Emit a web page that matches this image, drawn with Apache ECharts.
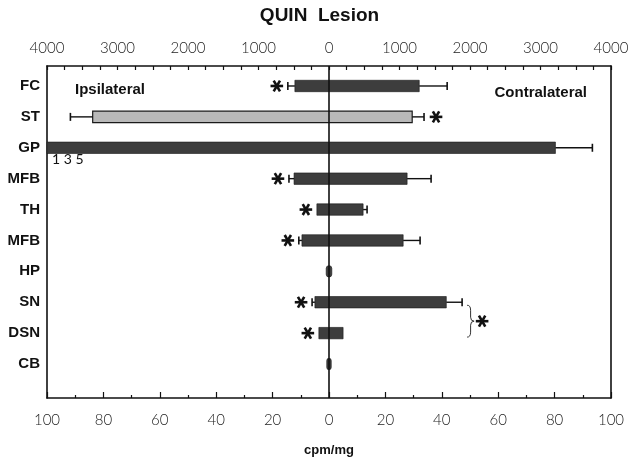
<!DOCTYPE html>
<html><head><meta charset="utf-8">
<script src="https://cdn.jsdelivr.net/npm/echarts@6/dist/echarts.min.js"></script>
<style>html,body{margin:0;padding:0;background:#fff}#c{width:639px;height:459px}</style>
</head><body><div id="c"></div>
<script>
// ---- data (cpm/mg) ----
const categories = ['FC','ST','GP','MFB','TH','MFB','HP','SN','DSN','CB'];
const ipsiMean   = [12.1, 83.8, 135, 12.4, 4.3, 9.6, 1.0, 5.0, 3.6, 0.8];
const ipsiErr    = [2.5, 7.9, 0, 1.8, 0, 1.1, 0, 1.0, 0, 0];
const contraMean = [32.0, 29.5, 80.3, 27.7, 12.1, 26.3, 1.0, 41.6, 5.0, 0.8];
const contraErr  = [9.9, 4.2, 13.1, 8.5, 1.4, 6.0, 0, 5.6, 0, 0];
const ipsiSig    = [1, 0, 0, 1, 1, 1, 0, 1, 1, 0];
const contraSig  = [0, 1, 0, 0, 0, 0, 0, 0, 0, 0];
const lightBar   = [0, 1, 0, 0, 0, 0, 0, 0, 0, 0];
const bracePairs = [[7, 8]];
const bottomRange = [-100, 100];   // cpm/mg
const topRange = [-4000, 4000];

const DARK = '#3d3d3d', LIGHT = '#b9b9b9', INK = '#111';
const NUMFONT = 'Lato', LBLFONT = 'Liberation Sans';

function asterisk(cx, cy, r) {
  const out = [];
  [0, 60, 120].forEach(a => {
    const t = a * Math.PI / 180, dx = r * Math.cos(t), dy = r * Math.sin(t);
    out.push({type: 'line', shape: {x1: cx - dx, y1: cy - dy, x2: cx + dx, y2: cy + dy},
      style: {stroke: INK, lineWidth: 2.6, lineCap: 'butt'}});
  });
  return out;
}

function renderRow(params, api) {
  const i = params.dataIndex;
  const cs = params.coordSys;
  const yc = api.coord([0, i])[1];
  const band = api.size([0, 1])[1];
  const h = band * 0.37;
  let xl = api.coord([-ipsiMean[i], i])[0];
  const xr = api.coord([contraMean[i], i])[0];
  const clipped = xl < cs.x;
  if (clipped) xl = cs.x;
  const w = xr - xl;
  const children = [];
  const r = w < 10 ? Math.min(w / 2, h / 2) : 0;
  children.push({type: 'rect', shape: {x: xl, y: yc - h / 2, width: w, height: h, r: r},
    style: {fill: lightBar[i] ? LIGHT : DARK, stroke: '#1a1a1a', lineWidth: lightBar[i] ? 1.2 : 0.6}});
  const cap = 4;
  let leftEnd = xl, rightEnd = xr;
  if (ipsiErr[i] > 0) {
    const xe = api.coord([-(ipsiMean[i] + ipsiErr[i]), i])[0];
    children.push({type: 'line', shape: {x1: xl, y1: yc, x2: xe, y2: yc}, style: {stroke: INK, lineWidth: 1.4}});
    children.push({type: 'line', shape: {x1: xe, y1: yc - cap, x2: xe, y2: yc + cap}, style: {stroke: INK, lineWidth: 1.6}});
    leftEnd = xe;
  }
  if (contraErr[i] > 0) {
    const xe = api.coord([contraMean[i] + contraErr[i], i])[0];
    children.push({type: 'line', shape: {x1: xr, y1: yc, x2: xe, y2: yc}, style: {stroke: INK, lineWidth: 1.4}});
    children.push({type: 'line', shape: {x1: xe, y1: yc - cap, x2: xe, y2: yc + cap}, style: {stroke: INK, lineWidth: 1.6}});
    rightEnd = xe;
  }
  if (ipsiSig[i]) children.push(...asterisk(leftEnd - 11, yc, 6.3));
  if (contraSig[i]) children.push(...asterisk(rightEnd + 12, yc, 6.3));
  if (clipped) {
    children.push({type: 'text', style: {text: String(ipsiMean[i]).split('').join(' '), x: cs.x + 5, y: yc + h / 2 + 6,
      verticalAlign: 'middle', align: 'left', fontFamily: NUMFONT, fontSize: 14, fill: INK}});
  }
  return {type: 'group', children};
}

function renderBrace(params, api) {
  const pair = bracePairs[params.dataIndex];
  const a = pair[0], b = pair[1];
  const y1 = api.coord([0, a])[1] + 3, y2 = api.coord([0, b])[1] + 4;
  const ends = pair.map(k => api.coord([contraMean[k] + contraErr[k], k])[0]);
  const x = Math.max(...ends) + 5;
  const m = (y1 + y2) / 2;
  const path = `M${x},${y1} Q${x + 3.5},${y1} ${x + 3.5},${y1 + 5} L${x + 3.5},${m - 4} Q${x + 3.5},${m} ${x + 7},${m} Q${x + 3.5},${m} ${x + 3.5},${m + 4} L${x + 3.5},${y2 - 5} Q${x + 3.5},${y2} ${x},${y2}`;
  return {type: 'group', children: [
    {type: 'path', shape: {pathData: path}, style: {stroke: '#333', fill: null, lineWidth: 1}},
    ...asterisk(x + 15, m, 6.3)
  ]};
}

function renderZero(params, api) {
  const cs = params.coordSys;
  const x = api.coord([0, 0])[0];
  return {type: 'line', shape: {x1: x, y1: cs.y, x2: x, y2: cs.y + cs.height},
    style: {stroke: INK, lineWidth: 1.6}};
}

const yMin = -0.647, yMax = 10.1;
const axisLineStyle = {color: INK, width: 1.6};

const option = {
  backgroundColor: '#fff',
  animation: false,
  title: {text: 'QUIN  Lesion', left: 'center', top: 6, padding: 0,
    textStyle: {fontFamily: LBLFONT, fontWeight: 'bold', fontSize: 19, color: INK}},
  grid: {left: 47, right: 28, top: 66, bottom: 61, containLabel: false, outerBoundsMode: 'none'},
  xAxis: [
    {type: 'value', position: 'bottom', min: bottomRange[0], max: bottomRange[1], interval: 20,
      axisLine: {show: true, onZero: false, lineStyle: axisLineStyle},
      axisTick: {show: true, inside: true, length: 6, lineStyle: {color: INK, width: 1.2}},
      minorTick: {show: true, splitNumber: 2, length: 3, lineStyle: {color: INK, width: 1.2}},
      splitLine: {show: false}, minorSplitLine: {show: false},
      axisLabel: {formatter: v => String(Math.abs(v)), margin: 15, fontFamily: NUMFONT, fontWeight: 300, fontSize: 15, color: '#222'},
      name: 'cpm/mg', nameLocation: 'middle', nameGap: 46,
      nameTextStyle: {fontFamily: LBLFONT, fontWeight: 'bold', fontSize: 13, color: INK}},
    {type: 'value', position: 'top', min: topRange[0], max: topRange[1], interval: 1000,
      axisLine: {show: true, onZero: false, lineStyle: axisLineStyle},
      axisTick: {show: true, inside: true, length: 4, lineStyle: {color: INK, width: 1.2}},
      minorTick: {show: true, splitNumber: 4, length: 4, lineStyle: {color: INK, width: 1.2}},
      splitLine: {show: false}, minorSplitLine: {show: false},
      axisLabel: {formatter: v => String(Math.abs(v)), margin: 10, fontFamily: NUMFONT, fontWeight: 300, fontSize: 15, color: '#222'}}
  ],
  yAxis: [
    {type: 'value', inverse: true, min: yMin, max: yMax, position: 'left',
      axisLine: {show: true, onZero: false, lineStyle: axisLineStyle},
      axisTick: {show: false}, splitLine: {show: false},
      axisLabel: {customValues: categories.map((c, i) => i), formatter: v => categories[v] || '',
        margin: 7, fontFamily: LBLFONT, fontWeight: 'bold', fontSize: 15, color: INK}},
    {type: 'value', inverse: true, min: yMin, max: yMax, position: 'right',
      axisLine: {show: true, onZero: false, lineStyle: axisLineStyle},
      axisTick: {show: false}, splitLine: {show: false}, axisLabel: {show: false}}
  ],
  graphic: [
    {type: 'text', left: 75, top: 82, style: {text: 'Ipsilateral', fontFamily: LBLFONT, fontWeight: 'bold', fontSize: 15, fill: INK}},
    {type: 'text', right: 52, top: 85, style: {text: 'Contralateral', fontFamily: LBLFONT, fontWeight: 'bold', fontSize: 15, fill: INK}}
  ],
  series: [
    {type: 'custom', name: 'bars', coordinateSystem: 'cartesian2d', xAxisIndex: 0, yAxisIndex: 0, z: 2,
      clip: false, renderItem: renderRow,
      encode: {x: [0, 2], y: 1},
      data: categories.map((c, i) => [-ipsiMean[i], i, contraMean[i]])},
    {type: 'custom', name: 'zero', coordinateSystem: 'cartesian2d', xAxisIndex: 0, yAxisIndex: 0, z: 3,
      renderItem: renderZero, encode: {x: 0, y: 1}, data: [[0, 0]]},
    {type: 'custom', name: 'brace', coordinateSystem: 'cartesian2d', xAxisIndex: 0, yAxisIndex: 0, z: 3,
      renderItem: renderBrace, encode: {x: 0, y: 1},
      data: bracePairs.map(p => [contraMean[p[0]], p[0]])}
  ]
};

const chart = echarts.init(document.getElementById('c'), null, {renderer: 'canvas'});
chart.setOption(option);
</script>
</body></html>
